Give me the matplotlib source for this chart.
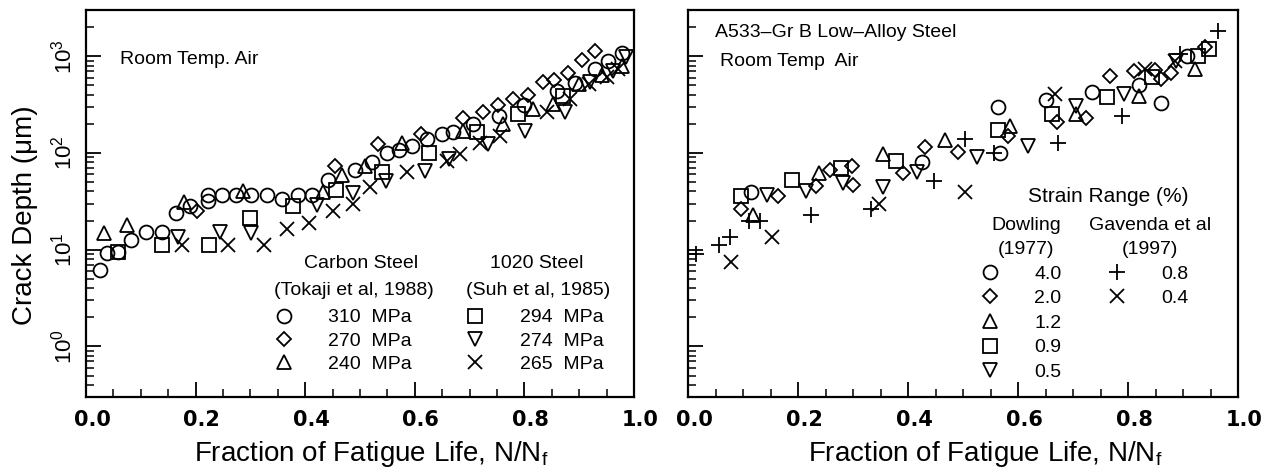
import numpy as np
import matplotlib
matplotlib.use('Agg')
import matplotlib.pyplot as plt
import matplotlib.transforms as mtransforms
from matplotlib.lines import Line2D
from matplotlib.ticker import MultipleLocator, LogLocator, NullFormatter

plt.rcParams['font.family'] = ['Liberation Sans', 'DejaVu Sans']
plt.rcParams['mathtext.fontset'] = 'custom'
plt.rcParams['mathtext.rm'] = 'Liberation Sans'

# ---- left panel data (Tokaji 1988 / Suh 1985) ----
cs310_x = [0.026, 0.038, 0.059, 0.083, 0.11, 0.138, 0.165, 0.19, 0.223, 0.223, 0.249, 0.274, 0.302,
           0.33, 0.357, 0.386, 0.412, 0.442, 0.491, 0.521, 0.55, 0.572, 0.594, 0.622, 0.649, 0.67,
           0.707, 0.754, 0.80, 0.859, 0.892, 0.929, 0.953, 0.978]
cs310_y = [6.2, 9.2, 9.5, 12.6, 15.4, 15.4, 24, 28, 31.9, 37, 37, 37, 37,
           36.6, 33, 36.6, 36.6, 52, 66, 81, 99, 107, 118, 139, 156, 163,
           198, 238, 310, 437, 523, 735, 894, 1090]
cs270_x = [0.202, 0.454, 0.533, 0.611, 0.688, 0.725, 0.752, 0.78, 0.807, 0.834, 0.854, 0.88, 0.905, 0.929]
cs270_y = [24.8, 73, 123, 158, 229, 262, 310, 363, 400, 535, 569, 667, 910, 1135]
cs240_x = [0.032, 0.074, 0.178, 0.286, 0.433, 0.468, 0.509, 0.576, 0.688, 0.761, 0.816, 0.853, 0.9, 0.941, 0.978]
cs240_y = [15, 17.8, 31, 40, 39.5, 59, 73, 128, 169, 198, 282, 319, 513, 636, 793]
st294_x = [0.059, 0.138, 0.224, 0.299, 0.378, 0.456, 0.54, 0.625, 0.713, 0.789, 0.871]
st294_y = [9.5, 11.2, 11.2, 21, 28.3, 41, 64, 100, 163, 251, 389]
st274_x = [0.168, 0.245, 0.302, 0.422, 0.488, 0.547, 0.619, 0.663, 0.733, 0.801, 0.874, 0.92, 0.962, 0.985]
st274_y = [13.6, 15.4, 15, 28.8, 38.9, 51.5, 65, 86, 125, 169, 262, 535, 705, 970]
st265_x = [0.176, 0.26, 0.324, 0.366, 0.407, 0.45, 0.488, 0.518, 0.585, 0.658, 0.682, 0.719, 0.755,
           0.841, 0.883, 0.917, 0.95, 0.971]
st265_y = [11.1, 11.1, 11.1, 16.2, 19, 24.8, 29.5, 44, 63, 83, 97, 128, 150,
           262, 359, 513, 602, 735]

# ---- right panel data (Dowling 1977 / Gavenda 1997) ----
d40_x = [0.114, 0.426, 0.564, 0.567, 0.65, 0.734, 0.82, 0.86, 0.907]
d40_y = [39.7, 81, 295, 100, 355, 427, 500, 327, 1000]
d20_x = [0.096, 0.164, 0.232, 0.258, 0.298, 0.30, 0.391, 0.431, 0.491, 0.582, 0.671, 0.724,
         0.767, 0.811, 0.849, 0.86, 0.879, 0.94]
d20_y = [26.6, 36, 45.6, 66, 73, 47, 62.7, 115, 101, 150, 209, 232,
         627, 705, 722, 578, 676, 1230]
d12_x = [0.118, 0.238, 0.355, 0.467, 0.585, 0.705, 0.82, 0.922]
d12_y = [23, 61.5, 97, 135, 190, 251, 389, 735]
d09_x = [0.096, 0.189, 0.279, 0.379, 0.564, 0.661, 0.761, 0.843, 0.928, 0.948]
d09_y = [36, 52.5, 70.5, 83, 174, 251, 380, 603, 1000, 1200]
d05_x = [0.143, 0.215, 0.281, 0.355, 0.417, 0.525, 0.619, 0.705, 0.793, 0.887]
d05_y = [36.8, 40.4, 49, 44.5, 64, 90, 118, 302, 405, 894]
g08_x = [0.0145, 0.057, 0.076, 0.111, 0.131, 0.223, 0.333, 0.448, 0.504, 0.556, 0.673, 0.789, 0.895, 0.964]
g08_y = [9.1, 11.1, 13.5, 19.8, 19.8, 22.7, 26.6, 51.5, 138, 100, 128, 242, 1050, 1830]
g04_x = [0.079, 0.152, 0.348, 0.504, 0.667, 0.831, 0.885]
g04_y = [7.4, 13.5, 30, 39.5, 405, 735, 900]

xticks = [0.0, 0.2, 0.4, 0.6, 0.8, 1.0]
xticklabels = ['0.0', '0.2', '0.4', '0.6', '0.8', '1.0']
yticks = [1, 10, 100, 1000]
yticklabels = [r'$\mathregular{10^{0}}$', r'$\mathregular{10^{1}}$',
               r'$\mathregular{10^{2}}$', r'$\mathregular{10^{3}}$']

fig = plt.figure(figsize=(12.68, 4.69), dpi=100)
axL = fig.add_axes([86/1268, 72/469, 548/1268, 387/469])
axR = fig.add_axes([688/1268, 72/469, 550/1268, 387/469])

mk = dict(linestyle='none', markerfacecolor='none', markeredgecolor='black',
          markeredgewidth=1.3, color='black')


def style_axes(ax, show_y):
    ax.set_yscale('log')
    ax.set_xlim(0, 1)
    ax.set_ylim(0.3, 3000)
    for s in ax.spines.values():
        s.set_linewidth(1.6)
    ax.xaxis.set_major_locator(MultipleLocator(0.2))
    ax.xaxis.set_minor_locator(MultipleLocator(0.05))
    ax.yaxis.set_major_locator(LogLocator(base=10))
    ax.yaxis.set_minor_locator(LogLocator(base=10, subs=np.arange(2, 10)))
    ax.yaxis.set_minor_formatter(NullFormatter())
    ax.tick_params(which='major', direction='in', length=11, width=1.3, top=False, right=False)
    ax.tick_params(which='minor', direction='in', length=6, width=1.1, top=False, right=False)
    ax.set_xticks(xticks)
    ax.set_xticklabels(xticklabels, fontsize=15, fontweight='bold', family='DejaVu Sans')
    ax.tick_params(axis='x', pad=9)
    off = mtransforms.ScaledTranslation(6/100, 0, fig.dpi_scale_trans)
    for lab in ax.get_xticklabels():
        lab.set_transform(lab.get_transform() + off)
    ax.set_yticks(yticks)
    if show_y:
        ax.set_yticklabels(yticklabels, fontsize=16, rotation=90, va='center')
        ax.tick_params(axis='y', pad=7)
    else:
        ax.set_yticklabels([])
    ax.set_xlabel('Fraction of Fatigue Life, N/N$_\\mathregular{f}$', fontsize=20)


style_axes(axL, True)
style_axes(axR, False)
axL.set_ylabel('Crack Depth (\u03bcm)', fontsize=20)
axL.yaxis.set_label_coords(-0.088, 0.47)
axL.xaxis.set_label_coords(0.52, -0.109)
axR.xaxis.set_label_coords(0.54, -0.109)

# left panel points
axL.plot(cs310_x, cs310_y, marker='o', markersize=10, **mk)
axL.plot(cs270_x, cs270_y, marker='D', markersize=7.5, **mk)
axL.plot(cs240_x, cs240_y, marker='^', markersize=10, **mk)
axL.plot(st294_x, st294_y, marker='s', markersize=9.5, **mk)
axL.plot(st274_x, st274_y, marker='v', markersize=10, **mk)
axL.plot(st265_x, st265_y, marker='x', markersize=10.5, **mk)

# right panel points
axR.plot(d40_x, d40_y, marker='o', markersize=10, **mk)
axR.plot(d20_x, d20_y, marker='D', markersize=7.5, **mk)
axR.plot(d12_x, d12_y, marker='^', markersize=10, **mk)
axR.plot(d09_x, d09_y, marker='s', markersize=9.5, **mk)
axR.plot(d05_x, d05_y, marker='v', markersize=10, **mk)
axR.plot(g08_x, g08_y, marker='+', markersize=12, **mk)
axR.plot(g04_x, g04_y, marker='x', markersize=10.5, **mk)

axL.text(0.062, 0.873, 'Room Temp. Air', fontsize=14, va='center', ha='left', transform=axL.transAxes)
axL.text(0.502, 0.346, 'Carbon Steel', fontsize=14, va='center', ha='center', transform=axL.transAxes)
axL.text(0.489, 0.276, '(Tokaji et al, 1988)', fontsize=14, va='center', ha='center', transform=axL.transAxes)
axL.text(0.823, 0.346, '1020 Steel', fontsize=14, va='center', ha='center', transform=axL.transAxes)
axL.text(0.825, 0.276, '(Suh et al, 1985)', fontsize=14, va='center', ha='center', transform=axL.transAxes)

axR.text(0.049, 0.943, 'A533\u2013Gr B Low\u2013Alloy Steel', fontsize=14, va='center', ha='left',
         transform=axR.transAxes)
axR.text(0.058, 0.868, 'Room Temp  Air', fontsize=14, va='center', ha='left', transform=axR.transAxes)
axR.text(0.765, 0.519, 'Strain Range (%)', fontsize=15, va='center', ha='center', transform=axR.transAxes)
axR.text(0.615, 0.444, 'Dowling', fontsize=14, va='center', ha='center', transform=axR.transAxes)
axR.text(0.615, 0.380, '(1977)', fontsize=14, va='center', ha='center', transform=axR.transAxes)
axR.text(0.840, 0.444, 'Gavenda et al', fontsize=14, va='center', ha='center', transform=axR.transAxes)
axR.text(0.840, 0.380, '(1997)', fontsize=14, va='center', ha='center', transform=axR.transAxes)


def h(m, ms):
    return Line2D([], [], marker=m, markersize=ms, **mk)


leg_kw = dict(frameon=False, loc='upper left', borderpad=0, borderaxespad=0,
              handlelength=1.0, handletextpad=1.8, fontsize=14)

l1 = axL.legend([h('o', 10), h('D', 7.5), h('^', 10)],
                ['310  MPa', '270  MPa', '240  MPa'],
                bbox_to_anchor=(0.343, 0.228), labelspacing=0.3, **leg_kw)
axL.add_artist(l1)
l2 = axL.legend([h('s', 9.5), h('v', 10), h('x', 10.5)],
                ['294  MPa', '274  MPa', '265  MPa'],
                bbox_to_anchor=(0.692, 0.228), labelspacing=0.3, **leg_kw)

l3 = axR.legend([h('o', 10), h('D', 7.5), h('^', 10), h('s', 9.5), h('v', 10)],
                ['4.0', '2.0', '1.2', '0.9', '0.5'],
                bbox_to_anchor=(0.531, 0.341), labelspacing=0.36, **leg_kw)
axR.add_artist(l3)
l4 = axR.legend([h('+', 12), h('x', 10.5)], ['0.8', '0.4'],
                bbox_to_anchor=(0.762, 0.341), labelspacing=0.36, **leg_kw)

fig.savefig('out.png', dpi=100)
